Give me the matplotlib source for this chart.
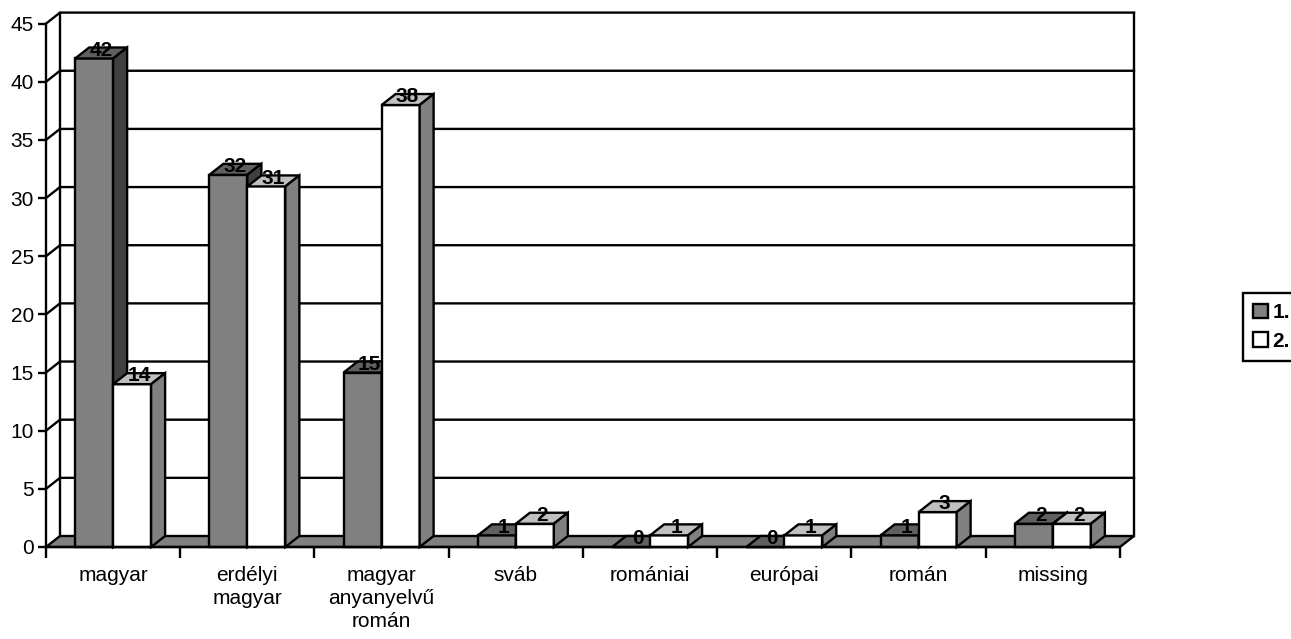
import matplotlib
matplotlib.use("Agg")
import matplotlib.pyplot as plt
from matplotlib.patches import Polygon, Patch

# data
categories = ["magyar", "erdélyi\nmagyar", "magyar\nanyanyelvű\nromán", "sváb",
              "romániai", "európai", "román", "missing"]
series_names = ["1.", "2."]
s1 = [42, 32, 15, 1, 0, 0, 1, 2]
s2 = [14, 31, 38, 2, 1, 1, 3, 2]
yticks = list(range(0, 50, 5))

plt.rcParams["font.family"] = ["Liberation Sans", "DejaVu Sans"]
FS = 15

W, H = 1291, 639
fig = plt.figure(figsize=(W / 100, H / 100), dpi=100)
# front plane of the chart, in pixel fractions
x0, x1, y0, y1 = 46, 1120, 547, 23.6
ax = fig.add_axes([x0 / W, (H - y0) / H, (x1 - x0) / W, (y0 - y1) / H])
ax.set_xlim(-0.5, 7.5)
ax.set_ylim(0, 45)

# depth offset of the 3d look (14 px right, 11 px up) in data units
DX = 14 / ((x1 - x0) / 8)
DY = 11 / ((y0 - y1) / 45)
LW = 1.7
XL, XR = -0.5, 7.5

# back wall, left wall grid and floor
for v in yticks[1:]:
    ax.plot([XL, XL + DX, XR + DX], [v, v + DY, v + DY], color="black", lw=LW,
            clip_on=False, zorder=1, solid_joinstyle="miter")
ax.plot([XL + DX, XL + DX], [DY, 45 + DY], color="black", lw=LW, clip_on=False, zorder=1)
ax.plot([XR + DX, XR + DX], [DY, 45 + DY], color="black", lw=LW, clip_on=False, zorder=1)
floor = Polygon([(XL, 0), (XR, 0), (XR + DX, DY), (XL + DX, DY)], closed=True,
                facecolor="#808080", edgecolor="black", lw=LW, clip_on=False, zorder=2)
ax.add_patch(floor)

w = 0.283
styles = [("#808080", "#606060", "#404040"), ("#ffffff", "#c0c0c0", "#808080")]


def bar3d(left, h, colors, z):
    front, top, side = colors
    r = left + w
    faces = [
        ([(left, 0), (r, 0), (r, h), (left, h)], front),
        ([(left, h), (r, h), (r + DX, h + DY), (left + DX, h + DY)], top),
        ([(r, 0), (r + DX, DY), (r + DX, h + DY), (r, h)], side),
    ]
    for pts, c in faces:
        ax.add_patch(Polygon(pts, closed=True, facecolor=c, edgecolor="black",
                             lw=LW, clip_on=False, zorder=z, joinstyle="miter"))


z = 3
for i in range(len(categories)):
    for k, vals in enumerate([s1, s2]):
        left = i - w + k * w
        bar3d(left, vals[i], styles[k], z)
        z += 1

for i in range(len(categories)):
    for k, vals in enumerate([s1, s2]):
        left = i - w + k * w
        ax.annotate(str(vals[i]), (left + w / 2 + DX / 2, vals[i]), xytext=(0, 2),
                    textcoords="offset points", ha="center", va="baseline",
                    fontsize=FS, fontweight="bold", zorder=100, annotation_clip=False)

# axes
for s in ["top", "right"]:
    ax.spines[s].set_visible(False)
ax.spines["left"].set_linewidth(LW)
ax.spines["bottom"].set_linewidth(LW)
ax.spines["left"].set_zorder(50)
ax.spines["bottom"].set_zorder(50)
ax.set_yticks(yticks)
ax.tick_params(axis="y", direction="out", length=5.8, width=LW, labelsize=FS, pad=3)
ax.set_xticks([i - 0.5 for i in range(len(categories) + 1)])
ax.set_xticklabels([])
ax.set_xticks(range(len(categories)), minor=True)
ax.set_xticklabels(categories, minor=True, fontsize=FS, linespacing=1.25, va="top")
ax.tick_params(axis="x", which="major", direction="out", length=8, width=LW)
ax.tick_params(axis="x", which="minor", length=0, pad=14)
ax.patch.set_visible(False)

handles = [Patch(facecolor=styles[k][0], edgecolor="black", lw=LW) for k in range(2)]
leg = fig.legend(handles, series_names, loc="lower left",
                 bbox_to_anchor=(1243 / W, (H - 361) / H), borderaxespad=0,
                 fancybox=False, edgecolor="black", framealpha=1,
                 handlelength=0.7, handleheight=0.7, handletextpad=0.2,
                 labelspacing=0.45, borderpad=0.5, prop={"size": FS, "weight": "bold"})
leg.get_frame().set_linewidth(LW)

fig.savefig("out.png", dpi=100)
